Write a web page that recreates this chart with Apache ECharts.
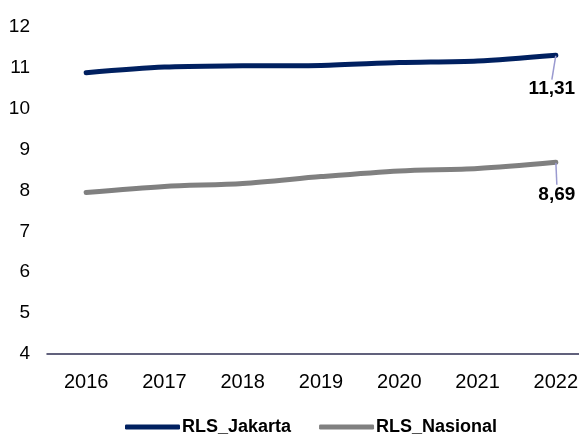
<!DOCTYPE html>
<html>
<head>
<meta charset="utf-8">
<script src="https://cdn.jsdelivr.net/npm/echarts@6/dist/echarts.min.js"></script>
<style>
  html, body { margin: 0; padding: 0; background: #fff; }
  #chart { width: 579px; height: 438px; }
</style>
</head>
<body>
<div id="chart"></div>
<script>
const years = ['2016', '2017', '2018', '2019', '2020', '2021', '2022']
const rlsJakarta = [10.88, 11.02, 11.05, 11.06, 11.13, 11.17, 11.31]
const rlsNasional = [7.95, 8.10, 8.17, 8.34, 8.48, 8.54, 8.69]

const font = 'Liberation Sans, Arial, sans-serif'
const labelShift = [[-4, 20], [1, 18]]

// only the last point gets a label
function withEndLabel (arr) {
  return arr.map((v, i) => {
    if (i !== arr.length - 1) return { value: v, symbolSize: 0 }
    return {
      value: v,
      symbolSize: 1,
      label: {
        show: true,
        position: 'bottom',
        distance: 4,
        formatter: p => String(p.value).replace('.', ','),
        color: '#000',
        fontFamily: font,
        fontSize: 19,
        fontWeight: 'bold'
      }
    }
  })
}

const lineSeries = (name, values, color) => ({
  name,
  type: 'line',
  smooth: 0.3,
  symbol: 'circle',
  showSymbol: true,
  data: withEndLabel(values),
  lineStyle: { color, width: 5, cap: 'round' },
  itemStyle: { color },
  labelLine: { show: true, lineStyle: { color: '#9a9ad0', width: 1.5 } },
  labelLayout: p => ({ dx: labelShift[p.seriesIndex][0], dy: labelShift[p.seriesIndex][1] })
})

const chart = echarts.init(document.getElementById('chart'))
chart.setOption({
  animation: false,
  grid: { left: 47, width: 548, top: 27, bottom: 84, outerBoundsMode: 'none' },
  legend: {
    top: 413,
    left: 120,
    itemWidth: 55,
    itemHeight: 5,
    itemGap: 28,
    icon: 'roundRect',
    textStyle: { fontFamily: font, fontSize: 18, fontWeight: 'bold', color: '#000', padding: [0, 0, 0, -3] },
    data: ['RLS_Jakarta', 'RLS_Nasional']
  },
  xAxis: {
    type: 'category',
    data: years,
    boundaryGap: true,
    axisLine: { lineStyle: { color: '#2e2e52', width: 1.5 } },
    axisTick: { show: false },
    axisLabel: { fontFamily: font, fontSize: 20, color: '#000', margin: 18 }
  },
  yAxis: {
    type: 'value',
    min: 4,
    max: 12,
    interval: 1,
    splitLine: { show: false },
    axisLine: { show: false },
    axisTick: { show: false },
    axisLabel: { fontFamily: font, fontSize: 19, color: '#000', margin: 17 }
  },
  series: [
    lineSeries('RLS_Jakarta', rlsJakarta, '#002060'),
    lineSeries('RLS_Nasional', rlsNasional, '#808080')
  ]
})
</script>
</body>
</html>
